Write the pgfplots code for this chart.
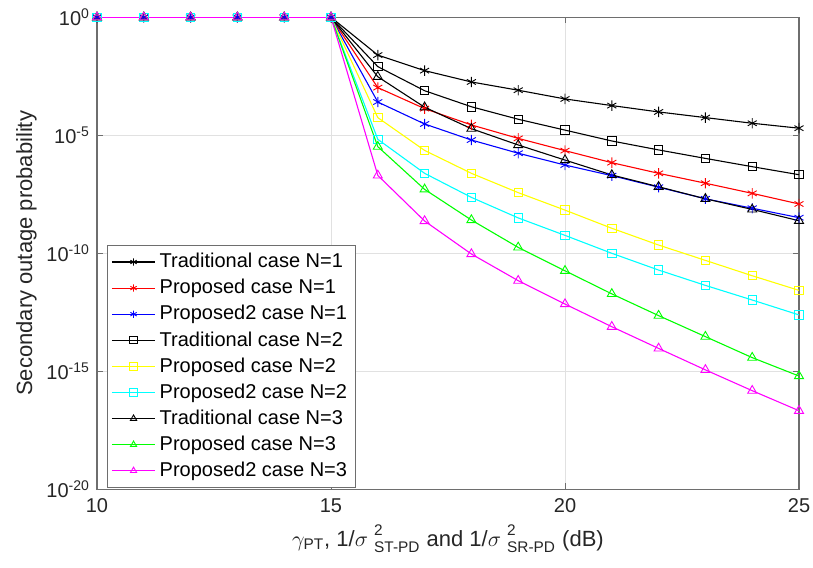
\documentclass[border=0pt]{standalone}
\usepackage{fontspec}
\setmainfont{Liberation Sans}
\usepackage{amsmath}
\usepackage{pgfplots}
\pgfplotsset{compat=1.18}
\definecolor{gridc}{RGB}{225,225,225}
\definecolor{axc}{RGB}{110,110,110}
\definecolor{mblack}{RGB}{0,0,0}
\definecolor{mred}{RGB}{255,0,0}
\definecolor{mblue}{RGB}{0,0,255}
\definecolor{myellow}{RGB}{255,255,0}
\definecolor{mcyan}{RGB}{0,255,255}
\definecolor{mgreen}{RGB}{0,255,0}
\definecolor{mmagenta}{RGB}{255,0,255}
\newcommand{\supsub}[1]{\ensuremath{\;{}^{\raisebox{1.8pt}{$\scriptstyle\text{2}$}}_{\raisebox{-0.4pt}{$\scriptstyle\text{#1}$}}}}
\begin{document}
\begin{tikzpicture}
\begin{axis}[
  name=ax, at={(0,0)}, anchor=south west,
  scale only axis, width=351pt, height=236pt,
  ymode=log, xmin=10, xmax=25, ymin=1e-20, ymax=1,
  xtick={10,15,20,25},
  ytick={1e-20,1e-15,1e-10,1e-5,1},
  yticklabels={10\textsuperscript{-20},10\textsuperscript{-15},10\textsuperscript{-10},10\textsuperscript{-5},10\textsuperscript{0}},
  minor ytick={}, minor xtick={},
  /pgf/number format/assume math mode=true,
  xticklabel={\pgfmathprintnumber[assume math mode=true]{\tick}},
  tick label style={font=\fontsize{10}{12}\selectfont, text=black!85},
  xticklabel style={yshift=-1pt},
  grid=major, major grid style={gridc, line width=0.5pt},
  axis line style={axc, line width=0.6pt},
  tick style={axc, line width=0.5pt},
  tick align=inside, major tick length=3pt,
  xlabel={$\gamma_{\text{PT}}$, 1/$\sigma$\supsub{ST-PD} and 1/$\sigma$\supsub{SR-PD} (dB)},
  ylabel={Secondary outage probability},
  label style={font=\fontsize{11}{13}\selectfont, text=black!85},
  xlabel style={yshift=1pt},
  ylabel style={yshift=-2pt},
  legend style={at={(0.0142,0.003)}, anchor=south west, draw=axc, fill=white,
    font=\fontsize{10}{12}\selectfont, row sep=0.3pt, inner sep=2pt,
    cells={anchor=west}},
  legend cell align=left,
  legend image code/.code={\draw[mark repeat=2,mark phase=2,mark size=1.8pt] plot coordinates {(0cm,0cm) (0.38cm,0cm) (0.76cm,0cm)};},
  every axis plot/.append style={line width=0.55pt, mark size=2.6pt, mark options={solid, line width=0.45pt}},
]
% Traditional N=1
\addplot[mblack, mark=asterisk] coordinates {(10,1)(11,1)(12,1)(13,1)(14,1)(15,1)
 (16,2.51e-2)(17,5.50e-3)(18,1.82e-3)(19,8.13e-4)(20,3.47e-4)(21,1.82e-4)(22,9.77e-5)(23,5.62e-5)(24,3.24e-5)(25,2.00e-5)};
\addlegendentry{Traditional case N=1}
% Proposed N=1
\addplot[mred, mark=asterisk] coordinates {(10,1)(11,1)(12,1)(13,1)(14,1)(15,1)
 (16,1.05e-3)(17,1.35e-4)(18,2.75e-5)(19,7.41e-6)(20,2.24e-6)(21,6.92e-7)(22,2.45e-7)(23,9.33e-8)(24,3.47e-8)(25,1.23e-8)};
\addlegendentry{Proposed case N=1}
% Proposed2 N=1
\addplot[mblue, mark=asterisk] coordinates {(10,1)(11,1)(12,1)(13,1)(14,1)(15,1)
 (16,2.57e-4)(17,3.02e-5)(18,6.31e-6)(19,1.74e-6)(20,5.50e-7)(21,1.95e-7)(22,6.31e-8)(23,2.04e-8)(24,8.13e-9)(25,3.24e-9)};
\addlegendentry{Proposed2 case N=1}
% Traditional N=2
\addplot[mblack, mark=square, mark size=2.1pt] coordinates {(10,1)(11,1)(12,1)(13,1)(14,1)(15,1)
 (16,8.13e-3)(17,7.76e-4)(18,1.62e-4)(19,4.79e-5)(20,1.66e-5)(21,5.75e-6)(22,2.40e-6)(23,1.05e-6)(24,4.68e-7)(25,2.14e-7)};
\addlegendentry{Traditional case N=2}
% Proposed N=2
\addplot[myellow, mark=square, mark size=2.1pt] coordinates {(10,1)(11,1)(12,1)(13,1)(14,1)(15,1)
 (16,5.62e-5)(17,2.29e-6)(18,2.45e-7)(19,3.72e-8)(20,6.76e-9)(21,1.15e-9)(22,2.24e-10)(23,5.01e-11)(24,1.12e-11)(25,2.69e-12)};
\addlegendentry{Proposed case N=2}
% Proposed2 N=2
\addplot[mcyan, mark=square, mark size=2.1pt] coordinates {(10,1)(11,1)(12,1)(13,1)(14,1)(15,1)
 (16,6.76e-6)(17,2.45e-7)(18,2.34e-8)(19,3.16e-9)(20,5.75e-10)(21,1.00e-10)(22,1.95e-11)(23,4.37e-12)(24,1.05e-12)(25,2.45e-13)};
\addlegendentry{Proposed2 case N=2}
% Traditional N=3
\addplot[mblack, mark=triangle] coordinates {(10,1)(11,1)(12,1)(13,1)(14,1)(15,1)
 (16,3.02e-3)(17,1.55e-4)(18,1.91e-5)(19,3.89e-6)(20,8.91e-7)(21,2.09e-7)(22,6.61e-8)(23,2.04e-8)(24,7.24e-9)(25,2.40e-9)};
\addlegendentry{Traditional case N=3}
% Proposed N=3
\addplot[mgreen, mark=triangle] coordinates {(10,1)(11,1)(12,1)(13,1)(14,1)(15,1)
 (16,3.31e-6)(17,5.13e-8)(18,2.57e-9)(19,1.78e-10)(20,1.82e-11)(21,1.91e-12)(22,2.29e-13)(23,2.95e-14)(24,3.80e-15)(25,6.31e-16)};
\addlegendentry{Proposed case N=3}
% Proposed2 N=3
\addplot[mmagenta, mark=triangle] coordinates {(10,1)(11,1)(12,1)(13,1)(14,1)(15,1)
 (16,2.00e-7)(17,2.34e-9)(18,9.33e-11)(19,6.92e-12)(20,7.08e-13)(21,7.76e-14)(22,9.33e-15)(23,1.15e-15)(24,1.51e-16)(25,2.14e-17)};
\addlegendentry{Proposed2 case N=3}
\end{axis}
\pgfresetboundingbox
\path (-48.5pt,-38.85pt) rectangle (358pt,244.65pt);
\end{tikzpicture}
\end{document}
